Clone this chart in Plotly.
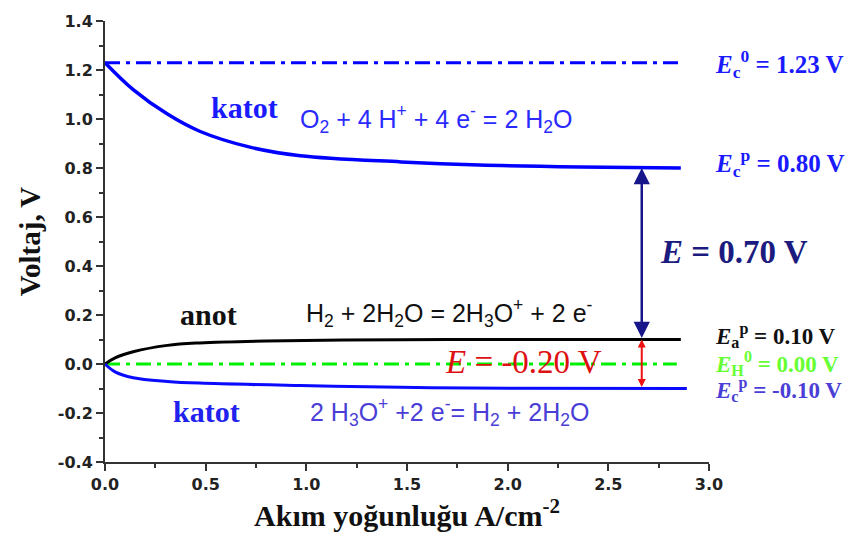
import plotly.graph_objects as go

# Cell potentials (V)
E_c0 = 1.23     # O2 reduction, standard
E_cp = 0.80     # O2 reduction, polarised plateau
E_ap = 0.10     # H2 oxidation, polarised plateau
E_h0 = 0.00     # hydrogen reference
E_cp_h = -0.10  # H3O+ reduction, polarised plateau
x_end = 2.86
x_arrow = 2.666

# O2 cathode polarisation curve
j_o2 = [0.0, 0.14, 0.31, 0.47, 0.72, 0.97, 1.47, 1.86, 2.36, 2.86]
v_o2 = [1.23, 1.12, 1.02, 0.95, 0.885, 0.85, 0.825, 0.812, 0.804, 0.80]

# H2 anode polarisation curve
j_an = [0.0, 0.05, 0.14, 0.31, 0.47, 0.80, 1.47, 2.0, 2.86]
v_an = [0.0, 0.025, 0.05, 0.076, 0.086, 0.094, 0.099, 0.10, 0.10]

# H3O+ cathode polarisation curve
j_hc = [0.0, 0.05, 0.14, 0.31, 0.47, 0.97, 1.47, 2.0, 2.89]
v_hc = [0.0, -0.032, -0.056, -0.071, -0.078, -0.088, -0.095, -0.099, -0.10]

# Axis ticks
x_ticks = [0.0, 0.5, 1.0, 1.5, 2.0, 2.5, 3.0]
x_labels = ["0.0", "0.5", "1.0", "1.5", "2.0", "2.5", "3.0"]
y_ticks = [-0.4, -0.2, 0.0, 0.2, 0.4, 0.6, 0.8, 1.0, 1.2, 1.4]
y_labels = ["-0.4", "-0.2", "0.0", "0.2", "0.4", "0.6", "0.8", "1.0", "1.2", "1.4"]

SERIF = "Liberation Serif"
SANS = "Liberation Sans"
DASHDOT = "15px,6px,4px,6px"

fig = go.Figure()

fig.add_trace(go.Scatter(x=[0, x_end], y=[E_c0, E_c0], mode="lines",
                         line=dict(color="#0000ff", width=3, dash=DASHDOT)))
fig.add_trace(go.Scatter(x=[0, 2.84], y=[E_h0, E_h0], mode="lines",
                         line=dict(color="#00ee00", width=3, dash=DASHDOT)))
fig.add_trace(go.Scatter(x=j_o2, y=v_o2, mode="lines", line_shape="spline",
                         line=dict(color="#0000ff", width=3.5)))
fig.add_trace(go.Scatter(x=j_an, y=v_an, mode="lines", line_shape="spline",
                         line=dict(color="#000000", width=3)))
fig.add_trace(go.Scatter(x=j_hc, y=v_hc, mode="lines", line_shape="spline",
                         line=dict(color="#0a0aff", width=3)))

ann = []

# double-headed arrows between the plateaus
ann.append(dict(x=x_arrow, y=E_cp, ax=x_arrow, ay=E_ap, xref="x", yref="y",
                axref="x", ayref="y", showarrow=True, arrowhead=2,
                arrowside="end+start", arrowsize=1.3, arrowwidth=2.5,
                arrowcolor="#16168a", text=""))
ann.append(dict(x=x_arrow, y=E_ap, ax=x_arrow, ay=E_cp_h, xref="x", yref="y",
                axref="x", ayref="y", showarrow=True, arrowhead=2,
                arrowside="end+start", arrowsize=0.8, arrowwidth=2,
                arrowcolor="#ee1111", text=""))


def label(x, y, text, color, size, family=SERIF, xanchor="center", xref="x"):
    ann.append(dict(x=x, y=y, xref=xref, yref="y", text=text, showarrow=False,
                    xanchor=xanchor, yanchor="middle",
                    font=dict(family=family, size=size, color=color)))


label(0.695, 1.046, "<b>katot</b>", "#1a1aff", 30)
label(1.647, 0.998, "O<sub>2</sub> + 4 H<sup>+</sup> + 4 e<sup>-</sup> = 2 H<sub>2</sub>O",
      "#2a2aff", 25, SANS)
label(0.512, 0.203, "<b>anot</b>", "#111111", 30)
label(1.711, 0.207, "H<sub>2</sub> + 2H<sub>2</sub>O = 2H<sub>3</sub>O<sup>+</sup> + 2 e<sup>-</sup>",
      "#111111", 25, SANS)
label(0.502, -0.195, "<b>katot</b>", "#2222ee", 30)
label(1.709, -0.195, "2 H<sub>3</sub>O<sup>+</sup> +2 e<sup>-</sup>= H<sub>2</sub> + 2H<sub>2</sub>O",
      "#4a3ed6", 25, SANS)

label(2.747, 0.456, f"<b><i>E</i> = {E_cp - E_ap:.2f} V</b>", "#1c1c80", 33,
      xanchor="left")
label(2.079, 0.007, f"<i>E</i> = {E_cp_h - E_ap:.2f} V", "#dd1111", 33)

# potential labels to the right of the plot area
RX = 1.0066
label(RX, E_c0 - 0.005, f"<b><i>E</i><sub>c</sub><sup>0</sup> = {E_c0:.2f} V</b>",
      "#1a1aff", 25, xanchor="left", xref="paper")
label(RX, E_cp + 0.02, f"<b><i>E</i><sub>c</sub><sup>p</sup> = {E_cp:.2f} V</b>",
      "#1a1aff", 25, xanchor="left", xref="paper")
label(RX, 0.116, f"<b><i>E</i><sub>a</sub><sup>p</sup> = {E_ap:.2f} V</b>",
      "#111111", 23, xanchor="left", xref="paper")
label(RX, 0.004, f"<b><i>E</i><sub>H</sub><sup>0</sup> = {E_h0:.2f} V</b>",
      "#66ff33", 23, xanchor="left", xref="paper")
label(RX, -0.106, f"<b><i>E</i><sub>c</sub><sup>p</sup> = {E_cp_h:.2f} V</b>",
      "#4a3ed6", 23, xanchor="left", xref="paper")

axis_common = dict(
    showline=True, linecolor="#333333", linewidth=2, mirror=False,
    ticks="outside", ticklen=7, tickwidth=2, tickcolor="#333333",
    showgrid=False, zeroline=False,
    tickfont=dict(family="DejaVu Sans", size=16, color="#222222", weight="bold"),
)

fig.update_layout(
    width=857, height=547,
    margin=dict(l=105, r=148, t=13, b=85),
    paper_bgcolor="white", plot_bgcolor="white",
    showlegend=False, hovermode=False,
    annotations=ann,
    xaxis=dict(range=[0, 3.0], tickmode="array", tickvals=x_ticks, ticktext=x_labels,
               minor=dict(dtick=0.25, ticks="outside", ticklen=4, tickwidth=2,
                          tickcolor="#333333"),
               title=dict(text="<b>Akım yoğunluğu A/cm<sup>-2</sup></b>",
                          font=dict(family=SERIF, size=30, color="#111111"),
                          standoff=10),
               **axis_common),
    yaxis=dict(range=[-0.4, 1.4], tickmode="array", tickvals=y_ticks, ticktext=y_labels,
               minor=dict(dtick=0.1, ticks="outside", ticklen=4, tickwidth=2,
                          tickcolor="#333333"),
               title=dict(text="<b>Voltaj, V</b>",
                          font=dict(family=SERIF, size=29, color="#111111"),
                          standoff=9),
               **axis_common),
)

fig.write_html("out.html")
